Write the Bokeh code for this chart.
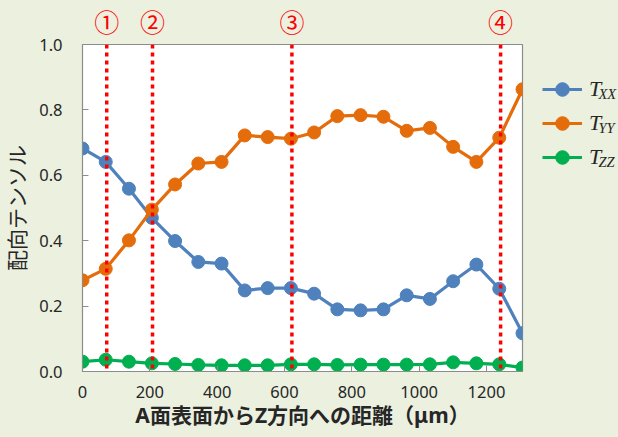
from bokeh.plotting import figure
from bokeh.layouts import row
from bokeh.models import (Range1d, FixedTicker, PrintfTickFormatter, Span, Label,
                          Legend, LegendItem, LinearAxis)
from bokeh.embed import file_html
from bokeh.resources import INLINE

# depth from surface A along Z (um)
depth = [0, 69, 138, 206, 275, 344, 413, 482, 550, 619,
         688, 757, 826, 894, 963, 1032, 1101, 1170, 1238, 1307]
# orientation tensor components
t_xx = [0.682, 0.641, 0.559, 0.470, 0.399, 0.335, 0.330, 0.248, 0.255, 0.255,
        0.238, 0.190, 0.187, 0.190, 0.233, 0.222, 0.276, 0.327, 0.253, 0.117]
t_yy = [0.279, 0.314, 0.401, 0.495, 0.572, 0.636, 0.641, 0.722, 0.717, 0.712,
        0.731, 0.781, 0.784, 0.779, 0.736, 0.745, 0.687, 0.641, 0.715, 0.863]
t_zz = [0.030, 0.036, 0.030, 0.025, 0.023, 0.020, 0.019, 0.019, 0.019, 0.022,
        0.022, 0.020, 0.021, 0.021, 0.021, 0.022, 0.028, 0.025, 0.022, 0.012]

# marked measurement positions
marker_pos = [72, 208, 622, 1242]
marker_txt = ["①", "②", "③", "④"]

x_ticks = [0, 200, 400, 600, 800, 1000, 1200]
y_ticks = [0.0, 0.2, 0.4, 0.6, 0.8, 1.0]

series = [("XX", t_xx, "#4F81BD"), ("YY", t_yy, "#E46C0A"), ("ZZ", t_zz, "#00B050")]

BG = "#EBF0DF"
TEXT = "#262626"
GRAY = "#8C8C8C"
JP = "Noto Sans, Noto Sans CJK JP"
X_END = depth[-1]
W, H = 618, 437
MAIN_W = 524
LEG_W = W - MAIN_W
FRAME_BOTTOM, FRAME_H = 371, 327

# ---- main chart ----
p = figure(width=MAIN_W, height=H, output_backend="svg", toolbar_location=None,
           x_range=Range1d(0, X_END), y_range=Range1d(0, 1.0),
           min_border_left=82, min_border_top=44, min_border_bottom=66,
           min_border_right=2)
p.background_fill_color = "white"
p.border_fill_color = BG
p.outline_line_color = GRAY
p.outline_line_width = 1.2
p.grid.visible = False

for name, vals, col in series:
    p.line(depth, vals, line_color=col, line_width=3.2)
    p.scatter(depth, vals, size=13, fill_color=col, line_color=col)

for xv in marker_pos:
    p.add_layout(Span(location=xv, dimension="height", line_color="#FF0000",
                      line_width=3.5, line_dash="4 4"))

for ax in (p.xaxis[0], p.yaxis[0]):
    ax.axis_line_color = GRAY
    ax.major_tick_line_color = GRAY
    ax.major_tick_in = 6
    ax.major_tick_out = 0
    ax.minor_tick_line_color = None
    ax.major_label_text_font = "Noto Sans"
    ax.major_label_text_font_size = "16.5px"
    ax.major_label_text_color = TEXT
    ax.axis_label_text_font = JP
    ax.axis_label_text_font_size = "21px"
    ax.axis_label_text_color = TEXT

p.xaxis.ticker = FixedTicker(ticks=x_ticks)
p.yaxis.ticker = FixedTicker(ticks=y_ticks)
p.yaxis.formatter = PrintfTickFormatter(format="%.1f")
p.xaxis.major_label_standoff = 14
p.yaxis.major_label_standoff = 20
p.xaxis.axis_label = "A面表面からZ方向への距離（μm）"
p.xaxis.axis_label_text_font_style = "bold"
p.xaxis.axis_label_standoff = 0
p.yaxis.axis_label = "配向テンソル"
p.yaxis.axis_label_text_font_style = "normal"
p.yaxis.axis_label_standoff = 5

# circled position markers along the top edge
top_axis = LinearAxis(ticker=FixedTicker(ticks=marker_pos),
                      major_label_overrides=dict(zip(marker_pos, marker_txt)),
                      axis_line_color=None, major_tick_line_color=None,
                      minor_tick_line_color=None,
                      major_label_standoff=0,
                      major_label_text_color="#FF0000",
                      major_label_text_font=JP,
                      major_label_text_font_size="25px")
p.add_layout(top_axis, "above")

# ---- legend panel (its frame lines up with the chart frame) ----
XS = -LEG_W - 50                          # keep the series data off this panel
q = figure(width=LEG_W, height=H, output_backend="svg", toolbar_location=None,
           x_range=Range1d(XS, XS + LEG_W), y_range=Range1d(0, FRAME_H),
           x_axis_type=None, y_axis_type=None, min_border=0)
q.background_fill_color = BG
q.border_fill_color = BG
q.outline_line_color = None
q.grid.visible = False

items = []
for name, vals, col in series:
    lr = q.line(depth, vals, line_color=col, line_width=3.2)
    sr = q.scatter(depth, vals, size=13, fill_color=col, line_color=col)
    items.append(LegendItem(label="T", renderers=[lr, sr]))

row_y = [89, 123, 157]          # item centres, page pixels from the top
ROW_H = 34
legend = Legend(items=items,
                location=(542 - MAIN_W, FRAME_BOTTOM - (row_y[-1] + ROW_H // 2)),
                orientation="vertical", margin=0, padding=0, spacing=0,
                glyph_width=40, glyph_height=ROW_H, label_height=ROW_H,
                label_standoff=7,
                label_text_font="Liberation Serif", label_text_font_style="italic",
                label_text_font_size="22px", label_text_color=TEXT,
                background_fill_alpha=0, border_line_alpha=0)
q.add_layout(legend)

# subscripts of the tensor components
for (name, _, _), yc in zip(series, row_y):
    q.add_layout(Label(x=XS + (598 - MAIN_W), y=FRAME_BOTTOM - (yc + 4), text=name,
                       text_font="Liberation Serif", text_font_style="italic",
                       text_font_size="14.5px", text_color=TEXT,
                       text_baseline="middle"))

layout = row(p, q, spacing=0, styles={"background-color": BG})
open("out.html", "w").write(file_html(layout, INLINE))
